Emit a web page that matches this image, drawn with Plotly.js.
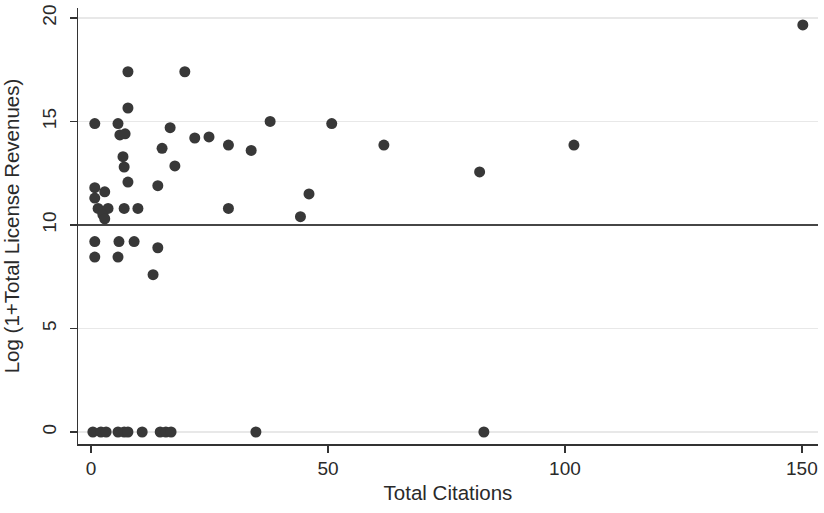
<!DOCTYPE html>
<html>
<head>
<meta charset="utf-8">
<script src="https://cdn.plot.ly/plotly-3.0.1.min.js"></script>
<style>html,body{margin:0;padding:0;background:#fff;}#chart{width:824px;height:513px;}</style>
</head>
<body>
<div id="chart"></div>
<script>
const totalCitations = [150.2, 7.8, 19.8, 7.8, 0.8, 5.7, 37.8, 50.8, 16.7, 6.1, 7.2, 21.9, 24.9, 29, 33.8, 15, 61.8, 101.9,
  6.75, 7, 17.7, 7.8, 14.1, 82, 46, 0.8, 2.9, 0.8, 1.5, 3.6, 2.5, 2.9, 7, 9.9, 29, 44.2,
  0.8, 5.9, 9.1, 14.1, 0.8, 5.7, 13.1,
  0.4, 2.1, 3.2, 5.7, 7, 7.8, 10.8, 14.6, 15.8, 16.9, 34.8, 82.9];
const logRevenues = [19.66, 17.4, 17.4, 15.65, 14.9, 14.9, 15.0, 14.9, 14.7, 14.35, 14.4, 14.2, 14.25, 13.86, 13.6, 13.7, 13.86, 13.86,
  13.3, 12.8, 12.85, 12.07, 11.9, 12.56, 11.5, 11.8, 11.6, 11.3, 10.8, 10.8, 10.5, 10.3, 10.8, 10.8, 10.8, 10.4,
  9.2, 9.2, 9.2, 8.9, 8.45, 8.45, 7.6,
  0, 0, 0, 0, 0, 0, 0, 0, 0, 0, 0, 0];
const yTicks = [0, 5, 10, 15, 20];
const xTicks = [0, 50, 100, 150];
const refLine = 10;

const fam = 'Liberation Sans, Arial, sans-serif';
const txt = {family: fam, size: 19, color: '#2a2a2a'};
const ttl = {family: fam, size: 20.5, color: '#2a2a2a'};

Plotly.newPlot('chart', [{
  type: 'scatter', mode: 'markers',
  x: totalCitations, y: logRevenues,
  marker: {symbol: 'circle', size: 11, color: '#383838'},
  showlegend: false, hoverinfo: 'x+y'
}], {
  width: 824, height: 513,
  margin: {l: 78, r: 6, t: 8, b: 69},
  paper_bgcolor: '#fff', plot_bgcolor: '#fff',
  font: txt,
  xaxis: {
    range: [-2.74, 153.4], tickvals: xTicks, ticktext: xTicks.map(String),
    showgrid: false, zeroline: false,
    showline: true, linecolor: '#333', linewidth: 1.5,
    ticks: 'outside', ticklen: 7, tickcolor: '#333', tickwidth: 1.5,
    tickfont: txt,
    title: {text: 'Total Citations', font: ttl, standoff: 7}
  },
  yaxis: {
    range: [-0.58, 20.48], tickvals: yTicks, ticktext: yTicks.map(String),
    tickangle: -90, ticklabelstandoff: 6,
    showgrid: true, gridcolor: '#e8e8e8', gridwidth: 1.5, zeroline: false,
    showline: true, linecolor: '#333', linewidth: 1.5,
    ticks: 'outside', ticklen: 7, tickcolor: '#333', tickwidth: 1.5,
    tickfont: txt,
    title: {text: 'Log (1+Total License Revenues)', font: ttl, standoff: 14}
  },
  shapes: [{type: 'line', xref: 'paper', x0: 0, x1: 1, yref: 'y', y0: refLine, y1: refLine,
    line: {color: '#111', width: 1.5}, layer: 'above'}]
}, {displayModeBar: false, staticPlot: true});
</script>
</body>
</html>
